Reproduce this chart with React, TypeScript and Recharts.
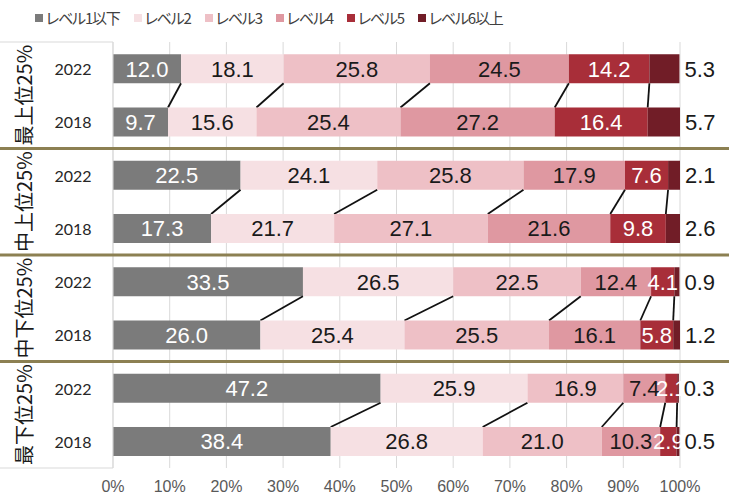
import React from 'react';
import { BarChart, Bar, XAxis, YAxis, CartesianGrid, LabelList } from 'recharts';

const levels = ['レベル1以下', 'レベル2', 'レベル3', 'レベル4', 'レベル5', 'レベル6以上'];
const colors = ['#7b7b7b', '#f6e0e3', '#eec0c6', '#df98a1', '#a82e39', '#711d27'];
const labelColors = ['#ffffff', '#1a1a1a', '#1a1a1a', '#1a1a1a', '#ffffff', '#1a1a1a'];
const groups = ['最上位25%', '中上位25%', '中下位25%', '最下位25%'];
const years = ['2022', '2018'];
const xTicks = [0, 10, 20, 30, 40, 50, 60, 70, 80, 90, 100];

const top2022 = [12.0, 18.1, 25.8, 24.5, 14.2, 5.3];
const top2018 = [9.7, 15.6, 25.4, 27.2, 16.4, 5.7];
const upperMid2022 = [22.5, 24.1, 25.8, 17.9, 7.6, 2.1];
const upperMid2018 = [17.3, 21.7, 27.1, 21.6, 9.8, 2.6];
const lowerMid2022 = [33.5, 26.5, 22.5, 12.4, 4.1, 0.9];
const lowerMid2018 = [26.0, 25.4, 25.5, 16.1, 5.8, 1.2];
const bottom2022 = [47.2, 25.9, 16.9, 7.4, 2.1, 0.3];
const bottom2018 = [38.4, 26.8, 21.0, 10.3, 2.9, 0.5];

const groupValues = [
  [top2022, top2018],
  [upperMid2022, upperMid2018],
  [lowerMid2022, lowerMid2018],
  [bottom2022, bottom2018],
];

const cumulative = (arr: number[]) => {
  const out: number[] = [];
  let s = 0;
  arr.forEach((v) => {
    s += v;
    out.push(s);
  });
  return out;
};

const rows: any[] = [];
groupValues.forEach((pair, gi) => {
  pair.forEach((vals, yi) => {
    const row: any = {
      id: `${gi}-${years[yi]}`,
      gi,
      group: groups[gi],
      year: years[yi],
      cum: cumulative(vals),
      nextCum: yi === 0 ? cumulative(pair[1]) : null,
    };
    vals.forEach((v, k) => {
      row['l' + k] = v;
    });
    rows.push(row);
  });
});

const W = 729;
const H = 497;
const MARGIN = { top: 42, right: 49, bottom: 0, left: 0 };
const X_AXIS_H = 29;
const Y_AXIS_W = 113;
const PLOT_H = H - MARGIN.top - MARGIN.bottom - X_AXIS_H;
const BAND = PLOT_H / rows.length;

const makeShape = (k: number) => (props: any) => {
  const { x, y, width, height, fill, payload } = props;
  const els: any[] = [
    <rect key="r" x={x} y={y} width={Math.max(0, width)} height={height} fill={fill} />,
  ];
  if (k < 5 && payload && payload.year === '2022' && payload.nextCum) {
    const v = payload['l' + k];
    const ppu = width / v;
    const x1 = x + width;
    const x2 = x1 + (payload.nextCum[k] - payload.cum[k]) * ppu;
    els.push(
      <line key="c" x1={x1} y1={y + height} x2={x2} y2={y + BAND} stroke="#111" strokeWidth={1.8} />
    );
  }
  return <g>{els}</g>;
};

const YTick = (props: any) => {
  const { x, y, payload } = props;
  const row = rows.find((r) => r.id === payload.value);
  if (!row) return null;
  const half = typeof payload.offset === 'number' && payload.offset > 0 ? payload.offset : BAND / 2;
  const idx = rows.indexOf(row);
  return (
    <g>
      <text
        x={x - 32}
        y={y}
        textAnchor="middle"
        dominantBaseline="central"
        fontFamily="Lato, 'Noto Sans', sans-serif"
        fontSize={16}
        fill="#262626"
      >
        {row.year}
      </text>
      {row.year === '2022' && (
        <text
          transform={`translate(23, ${y + half}) rotate(-90)`}
          textAnchor="middle"
          dominantBaseline="central"
          fontFamily="'Noto Sans CJK JP', sans-serif"
          fontSize={20}
          fill="#1a1a1a"
        >
          {row.group}
        </text>
      )}
      {idx === 0 && <line x1={0} x2={Y_AXIS_W} y1={y - half} y2={y - half} stroke="#d9d9d9" strokeWidth={1} />}
      {idx === rows.length - 1 && (
        <line x1={0} x2={Y_AXIS_W} y1={y + half} y2={y + half} stroke="#d9d9d9" strokeWidth={1} />
      )}
      {row.year === '2018' && idx < rows.length - 1 && (
        <line x1={0} x2={W} y1={y + half} y2={y + half} stroke="#8c8052" strokeWidth={3} />
      )}
    </g>
  );
};

const fmt = (v: any) => (typeof v === 'number' ? v.toFixed(1) : v);

export default function App() {
  return (
    <div style={{ position: 'absolute', left: 0, top: 0, width: W, height: H, background: '#fff' }}>
      <div
        style={{
          position: 'absolute',
          top: 7,
          left: 35,
          display: 'flex',
          alignItems: 'center',
          gap: 14,
          fontFamily: "'Noto Sans CJK JP', sans-serif",
          fontSize: 15,
          fontFeatureSettings: '"palt"',
          letterSpacing: -1.2,
          color: '#404040',
          whiteSpace: 'nowrap',
          zIndex: 2,
        }}
      >
        {levels.map((name, i) => (
          <div key={name} style={{ display: 'flex', alignItems: 'center' }}>
            <span style={{ display: 'inline-block', width: 8, height: 8, background: colors[i], marginRight: 3 }} />
            <span>{name}</span>
          </div>
        ))}
      </div>
      <BarChart
        width={W}
        height={H}
        data={rows}
        layout="vertical"
        margin={MARGIN}
        barCategoryGap="23%"
      >
        <CartesianGrid horizontal={false} stroke="#d9d9d9" />
        <XAxis
          type="number"
          domain={[0, 100]}
          ticks={xTicks}
          allowDataOverflow
          tickFormatter={(v: number) => `${v}%`}
          axisLine={false}
          tickLine={false}
          height={X_AXIS_H}
          tickMargin={7}
          tick={{ fontSize: 16, fill: '#595959', fontFamily: "'Liberation Sans', Arial, sans-serif" }}
        />
        <YAxis
          type="category"
          dataKey="id"
          width={Y_AXIS_W}
          axisLine={{ stroke: '#d9d9d9' }}
          tickLine={false}
          tick={<YTick />}
          interval={0}
        />
        {levels.map((name, k) => (
          <Bar
            key={name}
            dataKey={'l' + k}
            name={name}
            stackId="a"
            fill={colors[k]}
            isAnimationActive={false}
            shape={makeShape(k)}
          >
            <LabelList
              dataKey={'l' + k}
              position={k === 5 ? 'right' : 'center'}
              offset={5}
              formatter={fmt}
              fill={labelColors[k]}
              fontSize={22}
              fontFamily="'Liberation Sans', Arial, sans-serif"
            />
          </Bar>
        ))}
      </BarChart>
    </div>
  );
}
